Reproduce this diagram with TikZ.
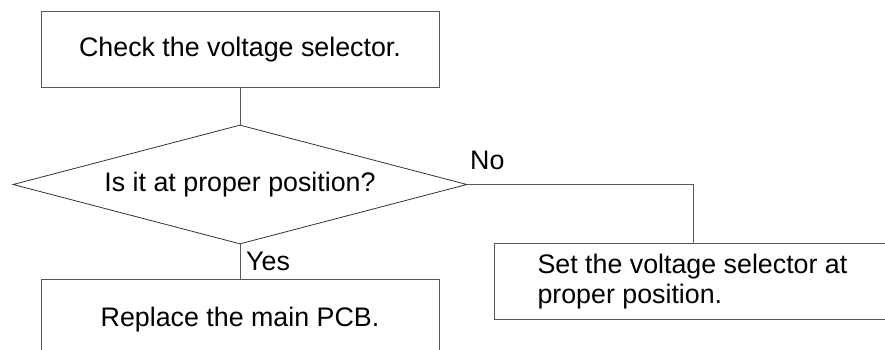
\documentclass[tikz,border=0pt]{standalone}
\usepackage{fontspec}
\setmainfont{Liberation Sans}
\usetikzlibrary{shapes.geometric}
\begin{document}
\begin{tikzpicture}[x=1pt,y=1pt,
  every node/.style={font=\fontsize{26.8}{30}\selectfont},
  boxnode/.style={draw=black!65, line width=1pt, rectangle, inner sep=0pt, minimum width=398pt, minimum height=76pt},
  decision/.style={draw=black!80, line width=0.8pt, diamond, inner sep=0pt, aspect=3.8, minimum width=454pt, minimum height=119pt},
  conn/.style={draw=black!65, line width=1pt},
  lbl/.style={inner sep=0pt, anchor=base west}]
\useasboundingbox (0,0) rectangle (885,350);
\clip (0,0) rectangle (885,350);
\node[boxnode] (check) at (240,300) {Check the voltage selector.};
\node[decision] (dec) at (240,165.5) {Is it at proper position?};
\node[boxnode, minimum height=80pt] (repl) at (240,30) {Replace the main PCB.};
\node[draw=black!65, line width=1pt, rectangle, anchor=north west, inner xsep=43pt, inner ysep=0pt,
      text width=414pt, align=flush left, minimum height=76pt] (set) at (494,107)
      {Set the voltage selector at\\proper position.};
\draw[conn] (check.south) -- (dec.north);
\draw[conn] (dec.south) -- (repl.north);
\draw[conn] (dec.east) -| ([xshift=199pt]set.north west);
\node[lbl] (no) at (470,180) {No};
\node[lbl] (yes) at (246,79) {Yes};
\end{tikzpicture}
\end{document}
